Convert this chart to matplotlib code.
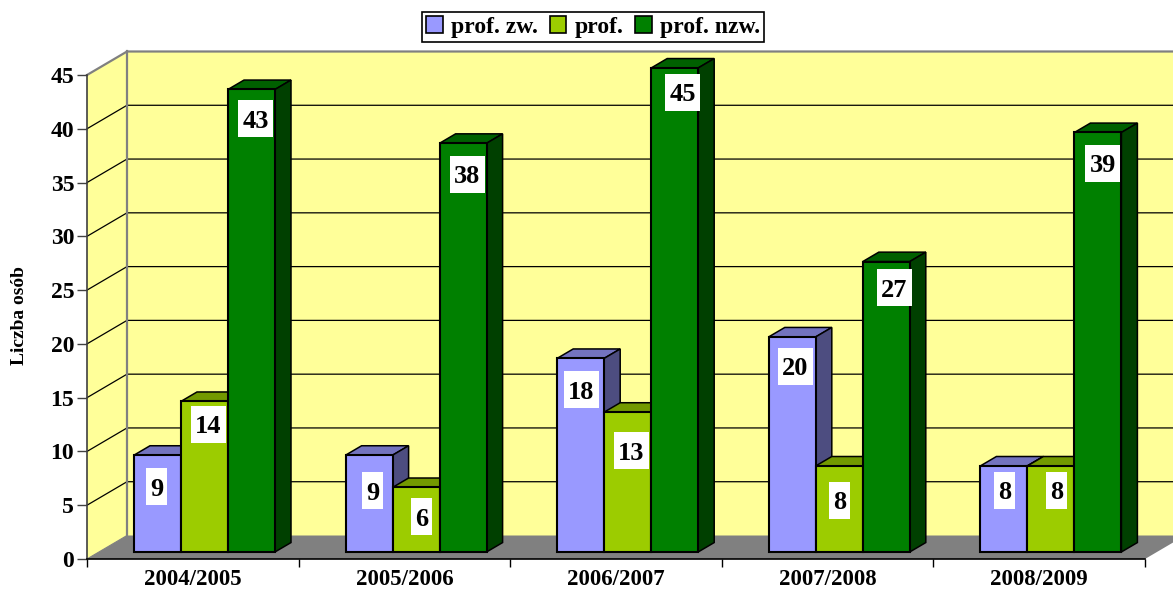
import matplotlib
matplotlib.use("Agg")
import matplotlib.pyplot as plt
from matplotlib.patches import Polygon, Patch, Rectangle

categories = ["2004/2005", "2005/2006", "2006/2007", "2007/2008", "2008/2009"]
prof_zw = [9, 9, 18, 20, 8]
prof = [14, 6, 13, 8, 8]
prof_nzw = [43, 38, 45, 27, 39]
series_names = ["prof. zw.", "prof.", "prof. nzw."]
y_ticks = [0, 5, 10, 15, 20, 25, 30, 35, 40, 45]

# label placement relative to the bar, in pixels, by series then category
label_drop = [[31.5, 35.5, 31.5, 29.5, 24.5], [23, 29.5, 38.5, 34.5, 24.5], [29.5, 31, 24.5, 26, 31]]
label_shift = [[-1, 3.4, 0.8, 3.2, 0.6], [3.5, 5.4, 3.8, 0.2, 5.6], [4, 4, 7.8, 7.7, 5]]

W, H = 1173, 591
plt.rcParams["font.family"] = ["Liberation Serif", "DejaVu Serif"]
plt.rcParams["font.weight"] = "bold"

fig = plt.figure(figsize=(W / 100, H / 100), dpi=100, facecolor="white")
L, R, B, T = 87, 1145, 559, 75
ax = fig.add_axes([L / W, 1 - B / H, (R - L) / W, (B - T) / H])
ax.set_xlim(0, 5)
ax.set_ylim(0, 45)
ax.patch.set_visible(False)

PX = (R - L) / 5
PY = (B - T) / 45
DX = 40 / PX
DY = 23.5 / PY


def pt(x, v, t=0.0):
    return (x + t * DX, v + t * DY)


def poly(points, face, edge="none", lw=0.0, z=1):
    ax.add_patch(Polygon(points, closed=True, facecolor=face, edgecolor=edge,
                         linewidth=lw, clip_on=False, zorder=z, joinstyle="miter"))


GRAY = "#808080"
WALL = "#FFFF99"
# walls and floor
poly([pt(0, 0, 1), pt(5, 0, 1), pt(5, 45, 1), pt(0, 45, 1)], WALL, z=1)
poly([pt(0, 0), pt(0, 0, 1), pt(0, 45, 1), pt(0, 45)], WALL, z=1)
poly([pt(0, 0), pt(5, 0), pt(5, 0, 1), pt(0, 0, 1)], GRAY, z=1.2)

for v in y_ticks[1:-1]:
    xs, ys = zip(pt(0, v), pt(0, v, 1), pt(5, v, 1))
    ax.plot(xs, ys, color="black", lw=0.9, clip_on=False, zorder=1.1)
xs, ys = zip(pt(0, 45), pt(0, 45, 1), pt(5, 45, 1))
ax.plot(xs, ys, color=GRAY, lw=1.6, clip_on=False, zorder=1.1)
xs, ys = zip(pt(0, 0, 1), pt(0, 45, 1))
ax.plot(xs, ys, color=GRAY, lw=1.6, clip_on=False, zorder=1.1)
xs, ys = zip(pt(0, 0), pt(0, 0, 1))
ax.plot(xs, ys, color=GRAY, lw=0.8, clip_on=False, zorder=1.3)

series = [prof_zw, prof, prof_nzw]
faces = ["#9999FF", "#9CCC00", "#008000"]
tops = ["#7373BF", "#739900", "#006000"]
sides = ["#4D4D80", "#4D6600", "#004000"]

BW = 47 / PX
GAP = 35 / PX
T0, T1 = 0.30, 0.70
z = 2
for c in range(len(categories)):
    for s, vals in enumerate(series):
        v = vals[c]
        x0 = c + GAP + s * BW
        x1 = x0 + BW
        poly([pt(x0, v, T0), pt(x1, v, T0), pt(x1, v, T1), pt(x0, v, T1)], tops[s], "black", 1.1, z)
        poly([pt(x1, 0, T0), pt(x1, 0, T1), pt(x1, v, T1), pt(x1, v, T0)], sides[s], "black", 1.1, z)
        poly([pt(x0, 0, T0), pt(x1, 0, T0), pt(x1, v, T0), pt(x0, v, T0)], faces[s], "black", 1.5, z + 0.1)
        z += 0.2

# value labels on white plates, above all bars
for c in range(len(categories)):
    for s, vals in enumerate(series):
        v = vals[c]
        x0 = c + GAP + s * BW
        cx, top = pt(x0 + BW / 2, v, T0)
        cx += label_shift[s][c] / PX
        cy = top - label_drop[s][c] / PY
        w = (35 if v >= 10 else 21) / PX
        h = 37 / PY
        ax.add_patch(Rectangle((cx - w / 2, cy - h / 2), w, h, facecolor="white",
                               edgecolor="none", clip_on=False, zorder=50))
        ax.text(cx, cy, str(v), ha="center", va="center_baseline", fontsize=19,
                fontweight="bold", color="black", zorder=51, clip_on=False)

# axes
for side in ("top", "right"):
    ax.spines[side].set_visible(False)
ax.spines["left"].set_color("#404040")
ax.spines["left"].set_linewidth(1.2)
ax.spines["bottom"].set_color("black")
ax.spines["bottom"].set_linewidth(1.2)
for sp in ax.spines.values():
    sp.set_zorder(40)

ax.set_yticks(y_ticks)
ax.set_yticklabels([str(v) for v in y_ticks], fontsize=17, fontweight="bold")
ax.tick_params(axis="y", length=7.2, width=1.0, color="#404040", pad=2)
ax.set_xticks(range(len(categories) + 1))
ax.set_xticklabels([""] * (len(categories) + 1))
ax.tick_params(axis="x", which="major", length=6, width=1.0, color="black")
ax.set_xticks([i + 0.5 for i in range(len(categories))], minor=True)
ax.set_xticklabels(categories, minor=True, fontsize=16.5, fontweight="bold")
ax.tick_params(axis="x", which="minor", length=0, pad=7)

fig.text(20 / W, 1 - 316 / H, "Liczba osób", rotation=90, ha="center", va="center",
         fontsize=14, fontweight="bold", color="black")

handles = [Patch(facecolor=f, edgecolor="black", linewidth=1.2) for f in faces]
leg = fig.legend(handles, series_names, loc="center", bbox_to_anchor=(593 / W, 1 - 27 / H),
                 ncol=3, frameon=True, fancybox=False, edgecolor="black", framealpha=1,
                 prop={"family": "Liberation Serif", "weight": "bold", "size": 17},
                 handlelength=0.7, handleheight=0.7, handletextpad=0.35,
                 columnspacing=0.5, borderpad=0.18, borderaxespad=0)
leg.get_frame().set_linewidth(1.2)

fig.savefig("out.png", dpi=100, facecolor="white")
